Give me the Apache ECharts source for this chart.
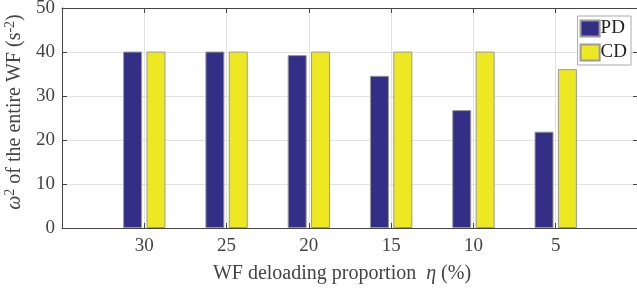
<!DOCTYPE html>
<html>
<head>
<meta charset="UTF-8">
<title>WF deloading</title>
<script src="https://cdn.jsdelivr.net/npm/echarts@6/dist/echarts.min.js"></script>
<style>
  html, body { margin: 0; padding: 0; background: #fff; }
  #main { width: 637px; height: 289px; }
</style>
</head>
<body>
<div id="main"></div>
<script>
// categories (deloading proportion, %) and bar values
const categories = ['30', '25', '20', '15', '10', '5'];
const pdValues = [40.1, 40.1, 39.3, 34.6, 26.8, 21.9];
const cdValues = [40.1, 40.1, 40.1, 40.1, 40.1, 36.1];
const yTicks = [0, 10, 20, 30, 40, 50];

var chart = echarts.init(document.getElementById('main'));

// bars sit on x = 1..6 of a 0..7 value axis, like matlab's grouped bar
const toPoints = vals => vals.map((v, i) => [i + 1, v]);

const serif = 'Liberation Serif';
const axisLine = { show: true, onZero: false, lineStyle: { color: '#444', width: 1 } };
const tickIn = { show: true, inside: true, length: 5, lineStyle: { color: '#444' } };
const nameRich = {
  i: { fontFamily: serif, fontSize: 20, fontStyle: 'italic', color: '#444' },
  sup: { fontFamily: serif, fontSize: 14, color: '#444', verticalAlign: 'top', lineHeight: 24 },
  n: { fontFamily: serif, fontSize: 20, color: '#444', lineHeight: 24 }
};

var option = {
  backgroundColor: '#fff',
  animation: false,
  textStyle: { fontFamily: serif },
  grid: { left: 62, right: -1, top: 8, bottom: 61, containLabel: false, outerBoundsMode: 'none' },
  legend: {
    orient: 'vertical',
    right: 6,
    top: 16,
    itemWidth: 19,
    itemHeight: 16,
    itemGap: 5,
    padding: [3, 4, 3, 2],
    borderColor: '#aaa',
    borderWidth: 1,
    backgroundColor: '#fff',
    icon: 'rect',
    textStyle: { fontFamily: serif, fontSize: 19, color: '#222', padding: [0, 0, 0, -4] },
    data: ['PD', 'CD']
  },
  xAxis: [{
    type: 'value',
    min: 0, max: 7, interval: 1,
    axisLine: axisLine,
    axisTick: tickIn,
    axisLabel: {
      fontFamily: serif, fontSize: 19, color: '#444', margin: 9,
      formatter: v => (v >= 1 && v <= 6) ? categories[v - 1] : ''
    },
    splitLine: { show: true, lineStyle: { color: '#e2e2e2' } },
    name: '{n|WF deloading proportion  }{i|η}{n| (%)}',
    nameLocation: 'middle',
    nameGap: 34,
    nameTextStyle: { fontFamily: serif, fontSize: 20, color: '#444', padding: [0, 16, 0, 0], rich: nameRich }
  }, {
    type: 'value',
    position: 'top',
    min: 0, max: 7, interval: 1,
    axisLine: axisLine,
    axisTick: tickIn,
    axisLabel: { show: false },
    splitLine: { show: false }
  }],
  yAxis: [{
    type: 'value',
    min: yTicks[0], max: yTicks[yTicks.length - 1], interval: 10,
    axisLine: axisLine,
    axisTick: tickIn,
    axisLabel: { fontFamily: serif, fontSize: 19, color: '#444', margin: 7 },
    splitLine: { show: true, lineStyle: { color: '#e2e2e2' } },
    name: '{i|ω}{sup|2}{n| of the entire WF (s}{sup|-2}{n|)}',
    nameLocation: 'middle',
    nameGap: 34,
    nameRotate: 90,
    nameTextStyle: { fontFamily: serif, fontSize: 20, color: '#444', padding: [0, 0, 0, 12], rich: nameRich }
  }, {
    type: 'value',
    position: 'right',
    min: 0, max: 50, interval: 10,
    axisLine: axisLine,
    axisTick: tickIn,
    axisLabel: { show: false },
    splitLine: { show: false }
  }],
  series: [{
    name: 'PD',
    type: 'bar',
    data: toPoints(pdValues),
    barWidth: 19,
    barGap: '23%',
    itemStyle: { color: '#332e86', borderColor: '#9a9a9a', borderWidth: 1 }
  }, {
    name: 'CD',
    type: 'bar',
    data: toPoints(cdValues),
    barWidth: 19,
    barGap: '23%',
    itemStyle: { color: '#eee823', borderColor: '#9a9a9a', borderWidth: 1 }
  }]
};

chart.setOption(option);
</script>
</body>
</html>
